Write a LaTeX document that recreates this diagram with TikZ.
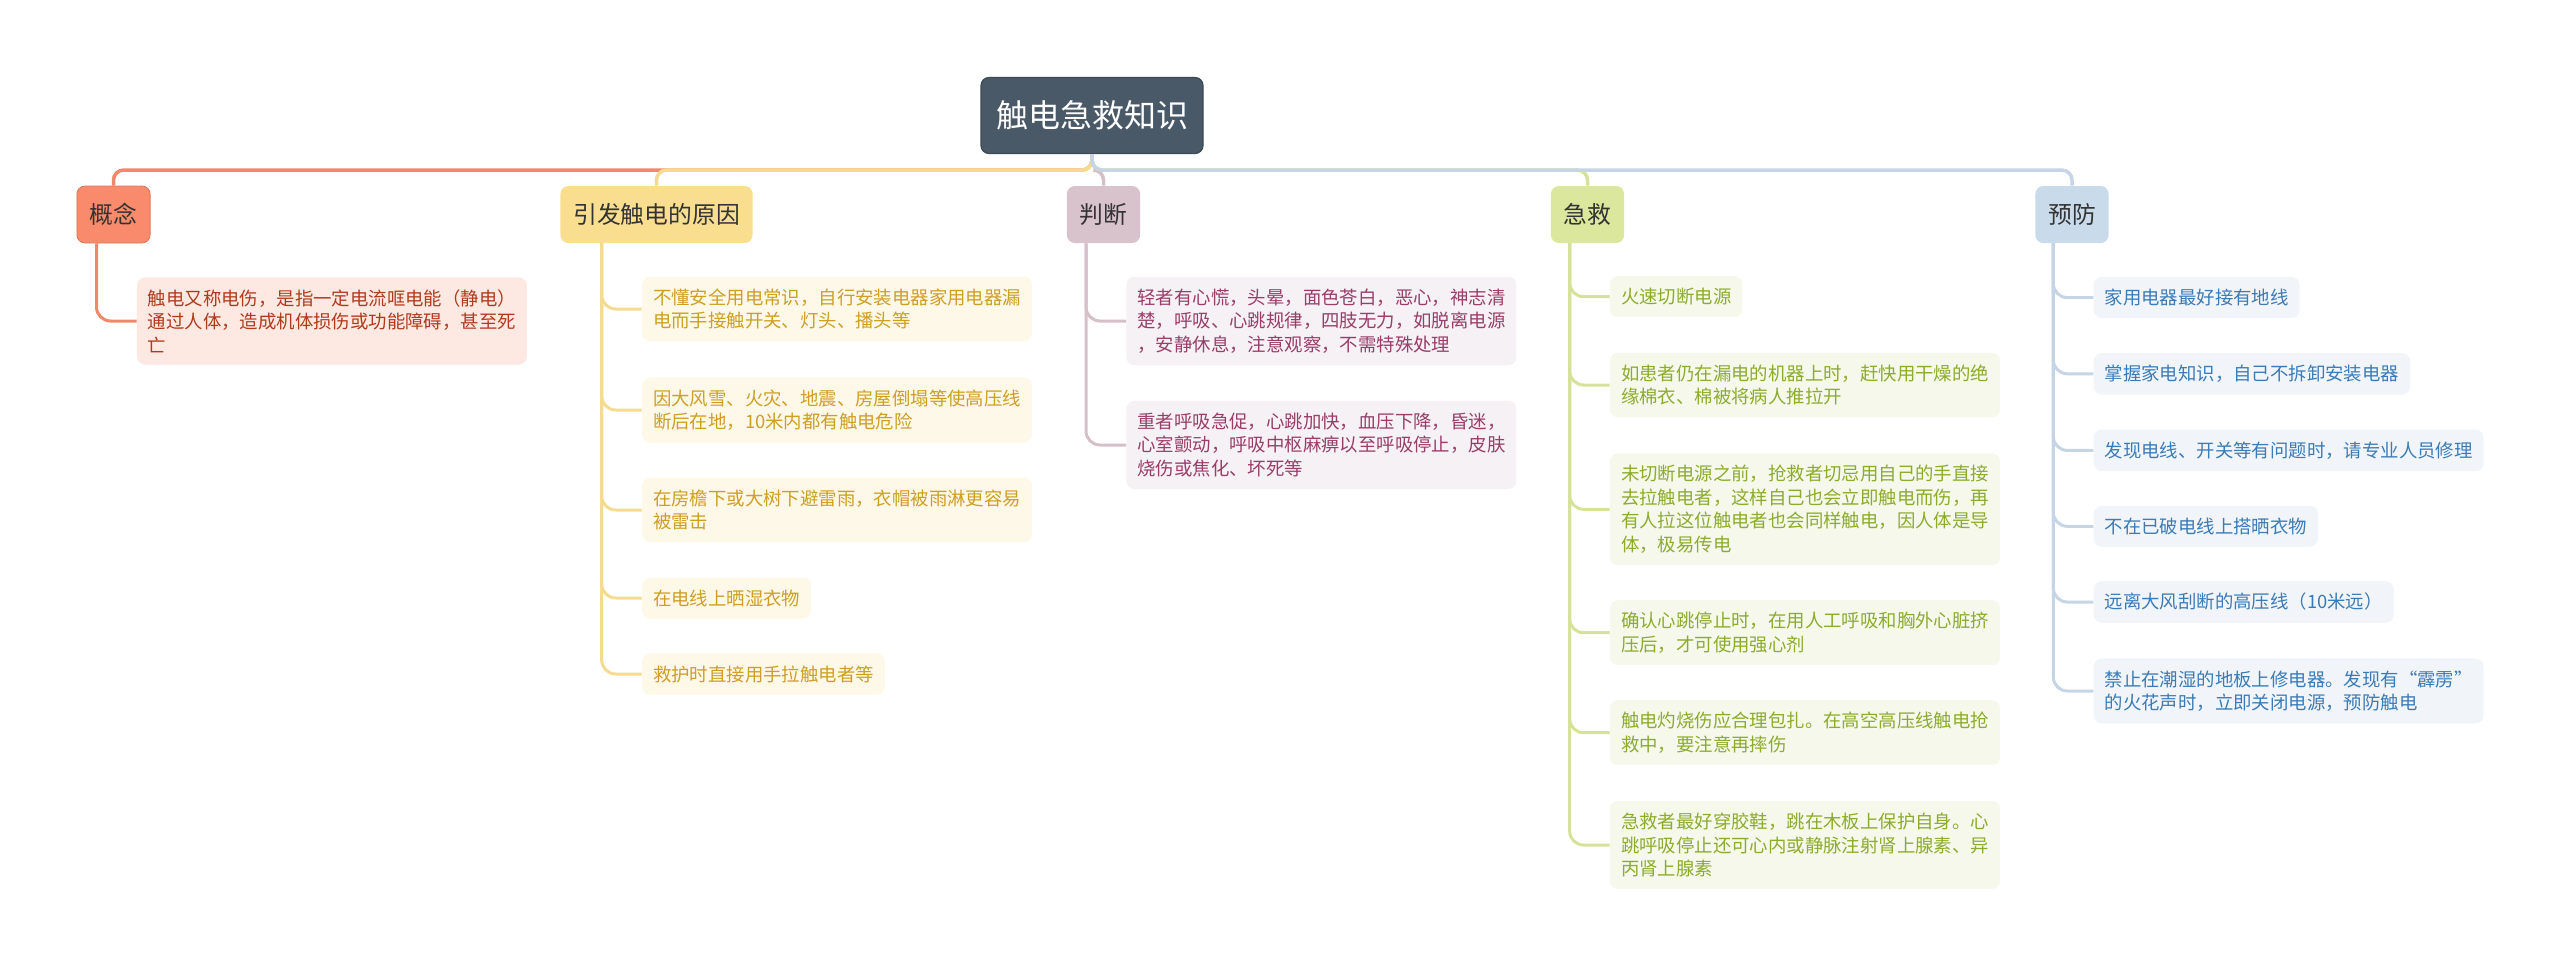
\documentclass[tikz,border=0pt]{standalone}
\usepackage{fontspec}
\setmainfont{Noto Sans CJK SC}
\usetikzlibrary{calc}
\definecolor{rootfill}{HTML}{4A5968}
\definecolor{rootline}{HTML}{3C4854}
\definecolor{topictext}{HTML}{333333}
\definecolor{gnfill}{HTML}{F98B6C}
\definecolor{gnline}{HTML}{F3876A}
\definecolor{gnleaf}{HTML}{FDE8E2}
\definecolor{gntext}{HTML}{B23A1C}
\definecolor{yyfill}{HTML}{F9DE90}
\definecolor{yyline}{HTML}{F5DB8F}
\definecolor{yyleaf}{HTML}{FEF8E8}
\definecolor{yytext}{HTML}{CF9F22}
\definecolor{pdfill}{HTML}{D8C2CC}
\definecolor{pdline}{HTML}{D5C0C9}
\definecolor{pdleaf}{HTML}{F6F1F4}
\definecolor{pdtext}{HTML}{9A3D6A}
\definecolor{jjfill}{HTML}{DBE79C}
\definecolor{jjline}{HTML}{D6E299}
\definecolor{jjleaf}{HTML}{F5F8EA}
\definecolor{jjtext}{HTML}{8CAC2C}
\definecolor{yffill}{HTML}{C9DAEA}
\definecolor{yfline}{HTML}{C5D5E5}
\definecolor{yfleaf}{HTML}{F1F5FA}
\definecolor{yftext}{HTML}{3A7BB8}
\tikzset{
  rootbox/.style={fill=rootfill, draw=rootline, line width=0.6pt, rounded corners=4pt,
    text=white, minimum width=111pt, minimum height=38pt, font=\fontsize{16pt}{18pt}\selectfont},
  topicbox/.style={rounded corners=4pt, minimum height=28.5pt, inner xsep=6.4pt,
    text=topictext, font=\fontsize{11.9pt}{14pt}\selectfont},
  leafbox/.style={rounded corners=4pt, inner xsep=5.5pt, inner ysep=6pt, align=left,
    anchor=west, font=\fontsize{9.2pt}{11.75pt}\selectfont},
  branch/.style={line width=1.75pt, rounded corners=5pt},
  twig/.style={line width=1.5pt, rounded corners=7pt},
}
\begin{document}
\begin{tikzpicture}[x=0.5pt,y=-0.5pt]
  \useasboundingbox (0,0) rectangle (2560,969);
  % root and main topics
  \node[rootbox] (root) at (1092,115.5) {触电急救知识};
  \node[topicbox, fill=gnfill, draw=gnline!90!black, line width=0.4pt] (gn) at (113.5,214.5) {概念};
  \node[topicbox, fill=yyfill] (yy) at (656.5,214.5) {引发触电的原因};
  \node[topicbox, fill=pdfill] (pd) at (1103.5,214.5) {判断};
  \node[topicbox, fill=jjfill] (jj) at (1587.5,214.5) {急救};
  \node[topicbox, fill=yffill] (yf) at (2072,214.5) {预防};
  % lines from the root
  \draw[branch, gnline] (root.south) -- ++(0,16) -| (gn.north);
  \draw[branch, yyline] (root.south) -- ++(0,16) -| (yy.north);
  \draw[branch, pdline] (root.south) -- ++(0,16) -| (pd.north);
  \draw[branch, jjline] (root.south) -- ++(0,16) -| (jj.north);
  \draw[branch, yfline] (root.south) -- ++(0,16) -| (yf.north);

  % 概念
  \node[leafbox, fill=gnleaf, text=gntext] (gn1) at (136.5,321)
    {触电又称电伤，是指一定电流哐电能（静电）\\通过人体，造成机体损伤或功能障碍，甚至死\\亡};
  \draw[twig, gnline] ($(gn.south -| gn1.west)+(-40,0)$) |- (gn1.west);

  % 引发触电的原因
  \node[leafbox, fill=yyleaf, text=yytext] (yy1) at (641.7,309)
    {不懂安全用电常识，自行安装电器家用电器漏\\电而手接触开关、灯头、播头等};
  \node[leafbox, fill=yyleaf, text=yytext] (yy2) at (641.7,410)
    {因大风雪、火灾、地震、房屋倒塌等使高压线\\断后在地，10米内都有触电危险};
  \node[leafbox, fill=yyleaf, text=yytext] (yy3) at (641.7,510)
    {在房檐下或大树下避雷雨，衣帽被雨淋更容易\\被雷击};
  \node[leafbox, fill=yyleaf, text=yytext] (yy4) at (641.7,598) {在电线上晒湿衣物};
  \node[leafbox, fill=yyleaf, text=yytext] (yy5) at (641.7,674) {救护时直接用手拉触电者等};
  \draw[twig, yyline] ($(yy.south -| yy1.west)+(-40,0)$) |- (yy1.west);
  \draw[twig, yyline] ($(yy.south -| yy2.west)+(-40,0)$) |- (yy2.west);
  \draw[twig, yyline] ($(yy.south -| yy3.west)+(-40,0)$) |- (yy3.west);
  \draw[twig, yyline] ($(yy.south -| yy4.west)+(-40,0)$) |- (yy4.west);
  \draw[twig, yyline] ($(yy.south -| yy5.west)+(-40,0)$) |- (yy5.west);

  % 判断
  \node[leafbox, fill=pdleaf, text=pdtext] (pd1) at (1126,321)
    {轻者有心慌，头晕，面色苍白，恶心，神志清\\楚，呼吸、心跳规律，四肢无力，如脱离电源\\，安静休息，注意观察，不需特殊处理};
  \node[leafbox, fill=pdleaf, text=pdtext] (pd2) at (1126,445)
    {重者呼吸急促，心跳加快，血压下降，昏迷，\\心室颤动，呼吸中枢麻痹以至呼吸停止，皮肤\\烧伤或焦化、坏死等};
  \draw[twig, pdline] ($(pd.south -| pd1.west)+(-40,0)$) |- (pd1.west);
  \draw[twig, pdline] ($(pd.south -| pd2.west)+(-40,0)$) |- (pd2.west);

  % 急救
  \node[leafbox, fill=jjleaf, text=jjtext] (jj1) at (1609.6,296.7) {火速切断电源};
  \node[leafbox, fill=jjleaf, text=jjtext] (jj2) at (1609.6,385)
    {如患者仍在漏电的机器上时，赶快用干燥的绝\\缘棉衣、棉被将病人推拉开};
  \node[leafbox, fill=jjleaf, text=jjtext] (jj3) at (1609.6,509.3)
    {未切断电源之前，抢救者切忌用自己的手直接\\去拉触电者，这样自己也会立即触电而伤，再\\有人拉这位触电者也会同样触电，因人体是导\\体，极易传电};
  \node[leafbox, fill=jjleaf, text=jjtext] (jj4) at (1609.6,632.7)
    {确认心跳停止时，在用人工呼吸和胸外心脏挤\\压后，才可使用强心剂};
  \node[leafbox, fill=jjleaf, text=jjtext] (jj5) at (1609.6,732.7)
    {触电灼烧伤应合理包扎。在高空高压线触电抢\\救中，要注意再摔伤};
  \node[leafbox, fill=jjleaf, text=jjtext] (jj6) at (1609.6,845)
    {急救者最好穿胶鞋，跳在木板上保护自身。心\\跳呼吸停止还可心内或静脉注射肾上腺素、异\\丙肾上腺素};
  \draw[twig, jjline] ($(jj.south -| jj1.west)+(-40,0)$) |- (jj1.west);
  \draw[twig, jjline] ($(jj.south -| jj2.west)+(-40,0)$) |- (jj2.west);
  \draw[twig, jjline] ($(jj.south -| jj3.west)+(-40,0)$) |- (jj3.west);
  \draw[twig, jjline] ($(jj.south -| jj4.west)+(-40,0)$) |- (jj4.west);
  \draw[twig, jjline] ($(jj.south -| jj5.west)+(-40,0)$) |- (jj5.west);
  \draw[twig, jjline] ($(jj.south -| jj6.west)+(-40,0)$) |- (jj6.west);

  % 预防
  \node[leafbox, fill=yfleaf, text=yftext] (yf1) at (2093.3,297.6) {家用电器最好接有地线};
  \node[leafbox, fill=yfleaf, text=yftext] (yf2) at (2093.3,373.8) {掌握家电知识，自己不拆卸安装电器};
  \node[leafbox, fill=yfleaf, text=yftext] (yf3) at (2093.3,450.4) {发现电线、开关等有问题时，请专业人员修理};
  \node[leafbox, fill=yfleaf, text=yftext] (yf4) at (2093.3,526.3) {不在已破电线上搭晒衣物};
  \node[leafbox, fill=yfleaf, text=yftext] (yf5) at (2093.3,602) {远离大风刮断的高压线（10米远）};
  \node[leafbox, fill=yfleaf, text=yftext] (yf6) at (2093.3,691)
    {禁止在潮湿的地板上修电器。发现有\makebox[1em][r]{“}霹雳\makebox[1em][l]{”}\\的火花声时，立即关闭电源，预防触电};
  \draw[twig, yfline] ($(yf.south -| yf1.west)+(-40,0)$) |- (yf1.west);
  \draw[twig, yfline] ($(yf.south -| yf2.west)+(-40,0)$) |- (yf2.west);
  \draw[twig, yfline] ($(yf.south -| yf3.west)+(-40,0)$) |- (yf3.west);
  \draw[twig, yfline] ($(yf.south -| yf4.west)+(-40,0)$) |- (yf4.west);
  \draw[twig, yfline] ($(yf.south -| yf5.west)+(-40,0)$) |- (yf5.west);
  \draw[twig, yfline] ($(yf.south -| yf6.west)+(-40,0)$) |- (yf6.west);
\end{tikzpicture}
\end{document}
